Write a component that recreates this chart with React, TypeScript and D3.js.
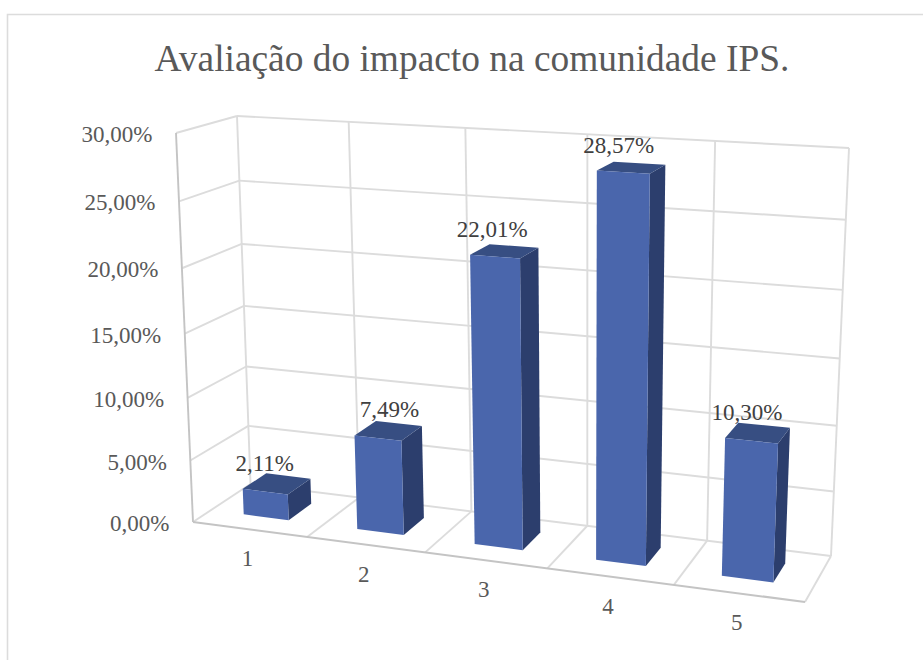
import React from "react";
import * as d3 from "d3";

const categories = ["1", "2", "3", "4", "5"];
const values = [2.11, 7.49, 22.01, 28.57, 10.3];
const valueLabels = ["2,11%", "7,49%", "22,01%", "28,57%", "10,30%"];
const yTicks = [0, 5, 10, 15, 20, 25, 30];
const yTickLabels = ["0,00%", "5,00%", "10,00%", "15,00%", "20,00%", "25,00%", "30,00%"];
const title = "Avaliação do impacto na comunidade IPS.";

type P = [number, number];

// unit square -> quad homography. Corners: (0,0) a, (1,0) b, (1,1) c, (0,1) d
function homography(a: P, b: P, c: P, d: P) {
  const dx1 = b[0] - c[0], dx2 = d[0] - c[0], sx = a[0] - b[0] + c[0] - d[0];
  const dy1 = b[1] - c[1], dy2 = d[1] - c[1], sy = a[1] - b[1] + c[1] - d[1];
  const den = dx1 * dy2 - dx2 * dy1;
  const g = (sx * dy2 - dx2 * sy) / den;
  const h = (dx1 * sy - sx * dy1) / den;
  const A = b[0] - a[0] + g * b[0], B = d[0] - a[0] + h * d[0], C = a[0];
  const D = b[1] - a[1] + g * b[1], E = d[1] - a[1] + h * d[1], F = a[1];
  return (u: number, w: number): P => {
    const q = g * u + h * w + 1;
    return [(A * u + B * w + C) / q, (D * u + E * w + F) / q];
  };
}

// The view of the 3D box: floor and ceiling as quads (front-left, front-right, back-right, back-left)
const floorAt = homography([193, 522], [805, 602], [831, 556], [250.5, 484]);
const ceilAt = homography([176, 133], [822.6, 169.4], [849, 148], [237, 116]);

const uScale = d3.scaleLinear().domain([0, categories.length]).range([0, 1]);
const vScale = d3.scaleLinear().domain([0, 30]).range([0, 1]);

function project(cat: number, depth: number, value: number): P {
  const s = vScale(value);
  const t = s / (1.066 - 0.066 * s);
  const f = floorAt(uScale(cat), depth);
  const c = ceilAt(uScale(cat), depth);
  return [f[0] + (c[0] - f[0]) * t, f[1] + (c[1] - f[1]) * t];
}

const line = d3.line<P>();
const seg = (a: P, b: P) => line([a, b]) as string;
const poly = (pts: P[]) => (line(pts) as string) + "Z";

const GRID = "#dcdcdc";
const AXIS = "#c4c4c4";
const FONT = "'Liberation Serif', serif";
const TICK = "#595959";
const LABEL = "#404040";
const FRONT = "#4A66AC";
const SIDE = "#2C3E6D";
const TOP = "#374E82";

const BAR_L = 0.295, BAR_R = 0.695, BAR_F = 0.3, BAR_B = 0.72;

export default function App() {
  const n = categories.length;
  return (
    <svg width={923} height={660} style={{ position: "absolute", left: 0, top: 0, background: "#fff" }}>
      <path d="M7.5,660V14.5H923" fill="none" stroke={GRID} strokeWidth={1.6} />
      <text x={472} y={71} textAnchor="middle" fontFamily={FONT} fontSize={37.4} fill={TICK}>{title}</text>

      {yTicks.map((v) => (
        <g key={v} stroke={GRID} strokeWidth={1.9} fill="none">
          <path d={seg(project(0, 1, v), project(n, 1, v))} />
          {v > 0 && <path d={seg(project(0, 0, v), project(0, 1, v))} />}
        </g>
      ))}
      {d3.range(0, n + 1).map((c) => (
        <g key={c} stroke={GRID} strokeWidth={1.9} fill="none">
          <path d={seg(project(c, 1, 0), project(c, 1, 30))} />
          <path d={seg(project(c, 0, 0), project(c, 1, 0))} />
        </g>
      ))}
      <path d={seg(project(0, 0, 0), project(0, 0, 30))} stroke={AXIS} strokeWidth={1.9} fill="none" />
      <path d={seg(project(0, 0, 0), project(n, 0, 0))} stroke={AXIS} strokeWidth={2} fill="none" />

      {yTicks.map((v, i) => {
        const [x, y] = project(0, 0, v);
        return (
          <text key={v} x={x - 23.5} y={y + 9} textAnchor="end" fontFamily={FONT} fontSize={23} fill={TICK}>
            {yTickLabels[i]}
          </text>
        );
      })}
      {categories.map((c, i) => {
        const [x, y] = project(i + 0.5, 0, 0);
        return (
          <text key={c} x={x - 2} y={y + 37} textAnchor="middle" fontFamily={FONT} fontSize={23} fill={TICK}>
            {c}
          </text>
        );
      })}

      {values.map((v, i) => {
        const l = i + BAR_L, r = i + BAR_R;
        const fl0 = project(l, BAR_F, 0), fr0 = project(r, BAR_F, 0);
        const fl1 = project(l, BAR_F, v), fr1 = project(r, BAR_F, v);
        const br0 = project(r, BAR_B, 0), br1 = project(r, BAR_B, v), bl1 = project(l, BAR_B, v);
        return (
          <g key={categories[i]}>
            <path d={poly([fr0, br0, br1, fr1])} fill={SIDE} />
            <path d={poly([fl1, fr1, br1, bl1])} fill={TOP} />
            <path d={poly([fl0, fr0, fr1, fl1])} fill={FRONT} />
          </g>
        );
      })}
      {values.map((v, i) => {
        const [x, y] = project(i + BAR_L, BAR_F, v);
        const nudge = i === 1 ? 13 : 0; // this label sits further right in the reference
        return (
          <text key={i} x={x + 22 + nudge} y={y - 18} textAnchor="middle" fontFamily={FONT} fontSize={23} fill={LABEL}>
            {valueLabels[i]}
          </text>
        );
      })}
    </svg>
  );
}
